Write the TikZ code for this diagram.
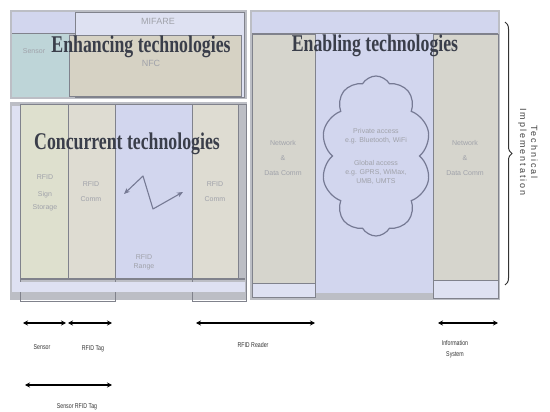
\documentclass[tikz,border=0pt]{standalone}
\usepackage{fontspec}
\setmainfont{Liberation Serif}
\newfontfamily\lsans{Liberation Sans}
\newfontfamily\spaced[LetterSpace=22]{Liberation Sans}
\usetikzlibrary{shapes.symbols,arrows.meta,decorations.pathreplacing}
\definecolor{frameg}{RGB}{188,190,197}
\definecolor{lav}{RGB}{210,214,238}
\definecolor{lavlight}{RGB}{222,225,242}
\definecolor{colgreen}{RGB}{222,224,206}
\definecolor{colbeige}{RGB}{222,220,210}
\definecolor{colgray}{RGB}{214,213,205}
\definecolor{tealc}{RGB}{190,213,216}
\definecolor{nfcc}{RGB}{214,210,196}
\definecolor{lineg}{RGB}{128,130,140}
\definecolor{headc}{RGB}{58,62,74}
\definecolor{softtext}{RGB}{160,162,170}
\definecolor{cloudline}{RGB}{118,122,148}
\tikzset{
  colbox/.style={draw=lineg, line width=0.8pt},
  heading/.style={font=\bfseries\fontsize{24}{24}\selectfont, text=headc, xscale=0.74, inner sep=0pt},
  soft/.style={font=\lsans\fontsize{7}{9}\selectfont, text=softtext, align=center, inner sep=0pt},
  toplab/.style={font=\lsans\fontsize{9}{10}\selectfont, text=softtext, inner sep=0pt},
  span/.style={{Stealth[length=5pt,width=5pt]}-{Stealth[length=5pt,width=5pt]}, line width=1.4pt, black},
  spanlab/.style={font=\lsans\fontsize{7}{8}\selectfont, text=black!80, align=center, xscale=0.75, inner sep=0pt}
}
\begin{document}
\begin{tikzpicture}[x=1pt,y=-1pt]
\useasboundingbox (0,0) rectangle (550,412);
\fill[white] (0,0) rectangle (550,412);

% ---------- left upper block: enhancing technologies ----------
\fill[frameg] (10,10) rectangle (247,99);
\fill[lav] (12,12) rectangle (245,33);
\draw[lineg, line width=0.8pt] (12,33) -- (75,33);
\fill[tealc] (12,34) rectangle (69,97);
\draw[colbox, fill=lavlight] (75,12) rectangle (244,97);
\draw[colbox, fill=nfcc] (69,35) rectangle (241,96);
\node[toplab] (mifare) at (158,21) {MIFARE};
\node[toplab] (nfc) at (151,63) {NFC};
\node[soft] (sensortop) at (34,51) {Sensor};
\node[heading] (enh) at (141,47) {Enhancing technologies};

% ---------- left lower block: concurrent technologies ----------
\fill[frameg] (10,102) rectangle (247,300);
\fill[lavlight] (12,106) rectangle (20,290);
\draw[colbox] (20,104) rectangle (115,301);
\draw[colbox] (192,104) rectangle (246,301);
\fill[lavlight] (12,282) rectangle (245,292);
\draw[colbox, fill=colgreen] (20,104) rectangle (68,278);
\draw[colbox, fill=colbeige] (68,104) rectangle (115,278);
\draw[colbox, fill=lav] (115,104) rectangle (192,278);
\draw[colbox, fill=colbeige] (192,104) rectangle (238,278);
\draw[lineg, line width=2pt] (20,279) -- (245,279);
\node[soft] (c1) at (45,193) {RFID\\[8pt]Sign\\[4pt]Storage};
\node[soft] (c2) at (91,192) {RFID\\[6pt]Comm};
\node[soft] (c4) at (215,192) {RFID\\[6pt]Comm};
\node[soft] (c3) at (144,262) {RFID\\Range};
\coordinate (zz1) at (124,194);
\coordinate (zz4) at (183,192);
\draw[{Stealth[length=6pt,width=5pt]}-{Stealth[length=6pt,width=5pt]}, cloudline, line width=1.1pt, line join=round]
  (zz1) -- (143,176) -- (153,209) -- (zz4);
\node[heading] (conc) at (127,144) {Concurrent technologies};

% ---------- right block: enabling technologies ----------
\fill[frameg] (250,10) rectangle (500,300);
\fill[lav] (252,12) rectangle (498,33);
\draw[lineg, line width=0.8pt] (252,33) -- (498,33);
\fill[lav] (315,34) rectangle (433,293);
\draw[colbox, fill=colgray] (252,34) rectangle (315,283);
\draw[colbox, fill=lavlight] (252,283) rectangle (315,297);
\draw[colbox, fill=colgray] (433,34) rectangle (498,280);
\draw[colbox, fill=lavlight] (433,280) rectangle (498,298);
\node[soft] (na) at (283,158) {Network\\[6pt]\&\\[6pt]Data Comm};
\node[soft] (nb) at (465,158) {Network\\[6pt]\&\\[6pt]Data Comm};
\node[cloud, cloud puffs=10, cloud puff arc=120, cloud ignores aspect,
      minimum width=110pt, minimum height=160pt, inner sep=0pt,
      draw=cloudline, line width=1.2pt, fill=lav,
      font=\lsans\fontsize{7}{9}\selectfont, text=softtext, align=center] (cloud) at (376,156)
  {Private access\\e.g. Bluetooth, WiFi\\[14pt]Global access\\e.g. GPRS, WiMax,\\UMB, UMTS};
\node[heading] (enab) at (375,46) {Enabling technologies};

% ---------- brace ----------
\coordinate (bt) at (505,22);
\coordinate (bb) at (505,285);
\draw[decorate, decoration={brace, amplitude=7pt}, line width=1pt, black!80] (bt) -- (bb);
\node[rotate=-90, align=center, font=\spaced\fontsize{9}{11}\selectfont, text=black!75] (tech) at (528,152) {Technical\\Implementation};

% ---------- bottom spans ----------
\coordinate (s1) at (23,323);  \coordinate (s2) at (66,323);
\coordinate (t1) at (68,323);  \coordinate (t2) at (112,323);
\coordinate (r1) at (196,323); \coordinate (r2) at (315,323);
\coordinate (i1) at (438,323); \coordinate (i2) at (498,323);
\coordinate (b1) at (25,385);  \coordinate (b2) at (112,385);
\draw[span] (s1) -- (s2);
\draw[span] (t1) -- (t2);
\draw[span] (r1) -- (r2);
\draw[span] (i1) -- (i2);
\draw[span] (b1) -- (b2);
\node[spanlab] (ls) at (42,347) {Sensor};
\node[spanlab] (lt) at (93,349) {RFID Tag};
\node[spanlab] (lr) at (253,345) {RFID Reader};
\node[spanlab] (li) at (455,349) {Information\\[3pt]System};
\node[spanlab] (lb) at (77,407) {Sensor RFID Tag};
\end{tikzpicture}
\end{document}
